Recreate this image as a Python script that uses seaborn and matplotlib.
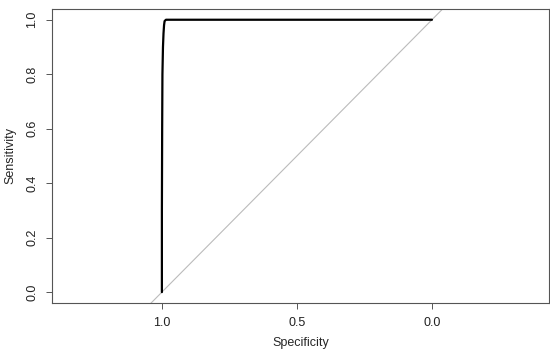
import numpy as np
import pandas as pd
import matplotlib
matplotlib.use("Agg")
import matplotlib.pyplot as plt
import seaborn as sns

# ROC curve points
specificity = [1.0, 1.0, 0.999, 0.998, 0.996, 0.994, 0.992, 0.99, 0.985, 0.5, 0.0]
sensitivity = [0.0, 0.3, 0.6, 0.8, 0.9, 0.95, 0.98, 0.995, 1.0, 1.0, 1.0]

x_ticks = [1.0, 0.5, 0.0]
y_ticks = [0.0, 0.2, 0.4, 0.6, 0.8, 1.0]

df = pd.DataFrame({"Specificity": specificity, "Sensitivity": sensitivity})

sns.set_style("white")
plt.rcParams["font.family"] = ["Liberation Sans", "DejaVu Sans"]

fig = plt.figure(figsize=(5.5, 3.54), dpi=100)
ax = fig.add_axes([0.0945, 0.144, 0.9035, 0.831])

# chance diagonal
diag = np.array([1.6, -0.6])
ax.plot(diag, 1 - diag, color="#bbbbbb", lw=0.8, zorder=1)

sns.lineplot(data=df, x="Specificity", y="Sensitivity", sort=False,
             estimator=None, color="black", lw=1.6, ax=ax, zorder=2)

ax.set_xlim(1.407, -0.433)
ax.set_ylim(-0.04, 1.04)
ax.set_xticks(x_ticks)
ax.set_xticklabels([f"{v:.1f}" for v in x_ticks])
ax.set_yticks(y_ticks)
ax.set_yticklabels([f"{v:.1f}" for v in y_ticks], rotation=90, va="center")

for s in ax.spines.values():
    s.set_color("#555555")
    s.set_linewidth(0.8)
ax.tick_params(axis="both", direction="out", length=4, width=0.7, color="#555555",
               labelsize=9, labelcolor="#222222", pad=6)
ax.tick_params(left=True, bottom=True)
ax.set_xlabel("Specificity", fontsize=9, labelpad=6)
ax.set_ylabel("Sensitivity", fontsize=9, labelpad=7)

fig.savefig("out.png", dpi=100)
